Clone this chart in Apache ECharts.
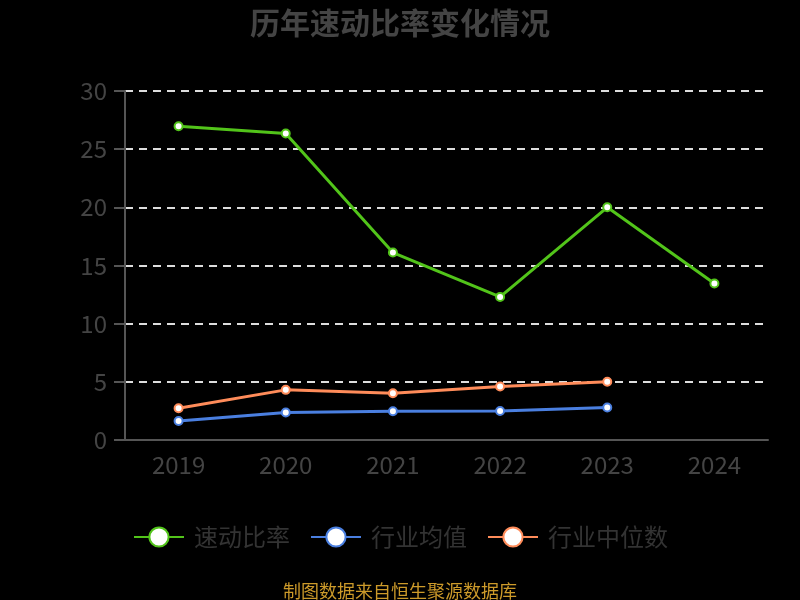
<!DOCTYPE html>
<html>
<head>
  <meta charset="utf-8">
  <script src="https://cdn.jsdelivr.net/npm/echarts@6/dist/echarts.min.js"></script>
  <style>
    body {
      margin: 0;
      padding: 0;
      background-color: #000;
    }
  </style>
  <title>历年速动比率变化情况</title>
</head>
<body>
<div id="main" style="width: 800px; height: 600px;"></div>
<script>
  var years = ['2019', '2020', '2021', '2022', '2023', '2024'];
  var quickRatio = [26.97, 26.35, 16.11, 12.3, 20.0, 13.45];
  var industryAvg = [1.64, 2.36, 2.47, 2.5, 2.79, null];
  var industryMedian = [2.73, 4.31, 4.02, 4.6, 5.0, null];
  var yTicks = [0, 5, 10, 15, 20, 25, 30];

  var myChart = echarts.init(document.getElementById('main'));

  function lineSeries(name, color, data) {
    return {
      name: name,
      type: 'line',
      data: data,
      symbol: 'circle',
      symbolSize: 8,
      lineStyle: { width: 3, color: color },
      itemStyle: { color: '#fff', borderColor: color, borderWidth: 2 }
    };
  }

  myChart.setOption({
    backgroundColor: '#000',
    textStyle: { fontFamily: 'Noto Sans CJK SC' },
    title: {
      text: '历年速动比率变化情况',
      left: 'center',
      top: 3,
      textStyle: { color: '#444', fontSize: 30, fontWeight: 'bold' }
    },
    grid: { left: 125, right: 32, top: 91, bottom: 160 },
    legend: {
      bottom: 46,
      left: 128,
      itemWidth: 50,
      itemHeight: 24,
      itemGap: 20,
      textStyle: { color: '#333', fontSize: 24, padding: [0, 0, 0, 5] },
      data: ['速动比率', '行业均值', '行业中位数']
    },
    graphic: [{
      type: 'text',
      left: 'center',
      bottom: 0,
      style: { text: '制图数据来自恒生聚源数据库', fill: '#cc9a2a', fontSize: 18, fontFamily: 'Noto Sans CJK SC' }
    }],
    xAxis: {
      type: 'category',
      data: years,
      boundaryGap: true,
      axisLine: { lineStyle: { color: '#555', width: 2 } },
      axisTick: { length: 9, lineStyle: { color: '#555', width: 2 } },
      axisLabel: { color: '#444', fontSize: 24, margin: 13 }
    },
    yAxis: {
      type: 'value',
      min: yTicks[0],
      max: yTicks[yTicks.length - 1],
      interval: 5,
      axisLine: { show: true, lineStyle: { color: '#555', width: 2 } },
      axisTick: { show: true, length: 11, lineStyle: { color: '#555', width: 2 } },
      axisLabel: { color: '#444', fontSize: 24, margin: 18 },
      splitLine: { lineStyle: { color: '#ddd', type: [8, 6], width: 2 } }
    },
    series: [
      lineSeries('速动比率', '#52c41a', quickRatio),
      lineSeries('行业均值', '#4a7fe0', industryAvg),
      lineSeries('行业中位数', '#ff8c5a', industryMedian)
    ]
  });
</script>
</body>
</html>
